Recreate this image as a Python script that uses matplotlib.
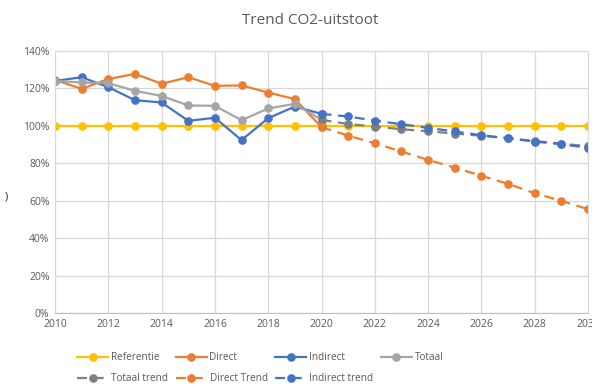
import matplotlib
matplotlib.use("Agg")
import matplotlib.pyplot as plt
from matplotlib.ticker import PercentFormatter

plt.rcParams['font.family'] = ['Open Sans', 'DejaVu Sans']

years = list(range(2010, 2031))
hist_years = list(range(2010, 2021))
trend_years = list(range(2020, 2031))

referentie = [100] * len(years)
direct = [124.5, 119.8, 125.0, 127.8, 122.5, 126.0, 121.4, 121.6, 117.8, 114.3, 99.3]
indirect = [124.0, 126.0, 120.7, 113.7, 112.5, 102.7, 104.3, 92.4, 104.1, 110.3, 106.4]
totaal = [124.0, 123.2, 122.8, 118.7, 116.0, 110.9, 110.7, 103.0, 109.3, 111.8, 103.2]

totaal_trend = [103.2, 101.0, 99.6, 98.2, 97.1, 95.9, 94.7, 93.3, 91.9, 90.5, 89.1]
direct_trend = [99.3, 94.8, 90.7, 86.3, 81.8, 77.7, 73.3, 69.0, 64.0, 59.9, 55.5]
indirect_trend = [106.4, 105.0, 102.8, 100.9, 98.9, 97.0, 95.0, 93.4, 91.6, 90.2, 88.2]

C_REF = '#FFC000'
C_DIR = '#ED7D31'
C_IND = '#4472C4'
C_TOT = '#A5A5A5'
C_TOT_TR = '#7F7F7F'
TXT = '#595959'

fig = plt.figure(figsize=(5.92, 3.87), dpi=100)
ax = fig.add_axes([55 / 592, 1 - 313 / 387, (588 - 55) / 592, (313 - 51) / 387])

lw = 1.6
ms = 5.2
dash = (0, (4.5, 3))

h_ref, = ax.plot(years, referentie, color=C_REF, lw=lw, marker='o', ms=ms, label='Referentie')
h_dir, = ax.plot(hist_years, direct, color=C_DIR, lw=lw, marker='o', ms=ms, label='Direct')
h_ind, = ax.plot(hist_years, indirect, color=C_IND, lw=lw, marker='o', ms=ms, label='Indirect')
h_tot, = ax.plot(hist_years, totaal, color=C_TOT, lw=lw, marker='o', ms=ms, label='Totaal')
h_tt, = ax.plot(trend_years, totaal_trend, color=C_TOT_TR, lw=lw, ls=dash, marker='o', ms=ms, label='Totaal trend')
h_dt, = ax.plot(trend_years, direct_trend, color=C_DIR, lw=lw, ls=dash, marker='o', ms=ms, label='Direct Trend')
h_it, = ax.plot(trend_years, indirect_trend, color=C_IND, lw=lw, ls=dash, marker='o', ms=ms, label='Indirect trend')

ax.set_xlim(2010, 2030)
ax.set_ylim(0, 140)
ax.set_xticks(range(2010, 2031, 2))
ax.set_yticks(range(0, 141, 20))
ax.yaxis.set_major_formatter(PercentFormatter(decimals=0))
ax.grid(True, color='#D9D9D9', lw=0.9)
ax.set_axisbelow(True)
for side in ['top', 'right', 'left']:
    ax.spines[side].set_color('#D9D9D9')
ax.spines['bottom'].set_color('#BFBFBF')
ax.tick_params(length=0, labelsize=7.5, labelcolor=TXT, pad=4)

fig.text(310 / 592, 1 - 20 / 387, 'Trend CO2-uitstoot', ha='center', va='center',
         fontsize=11, color=TXT)
fig.text(6 / 592, 1 - 197 / 387, ')', ha='center', va='center', fontsize=8, color='#222222')

handles = [h_ref, h_tt, h_dir, h_dt, h_ind, h_it, h_tot]
fig.legend(handles, [h.get_label() for h in handles], ncol=4, loc='center left',
           bbox_to_anchor=(68 / 592, 1 - 368 / 387), frameon=False, fontsize=7.2,
           labelcolor=TXT, handlelength=3.1, handletextpad=0.3, columnspacing=0.75,
           labelspacing=1.0)

fig.savefig('out.png', dpi=100)
